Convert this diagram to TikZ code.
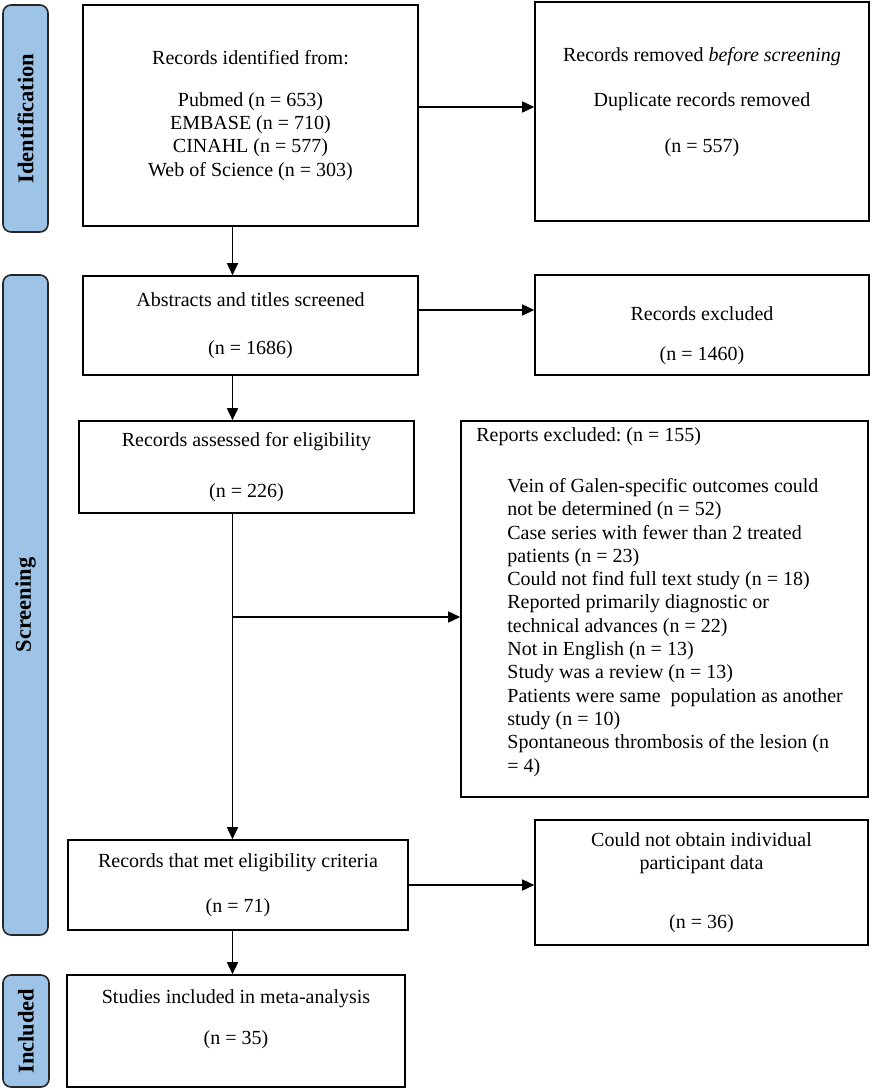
\documentclass[tikz,border=0pt]{standalone}
\usepackage{fontspec}
\setmainfont{Liberation Serif}
\usetikzlibrary{arrows.meta,positioning}
\definecolor{phaseblue}{HTML}{9DC3E6}
\frenchspacing
\begin{document}
\begin{tikzpicture}[x=1pt,y=-1pt,
    box/.style={draw,line width=1.6pt,align=center,inner sep=0pt,
      font=\fontsize{20}{23.3}\selectfont},
    phase/.style={draw=black!85,fill=phaseblue,line width=1.6pt,rounded corners=8pt,
      rotate=90,inner sep=0pt,font=\fontsize{22.5}{26}\selectfont\bfseries},
    listtext/.style={align=left,inner sep=0pt,anchor=north west,
      font=\fontsize{20}{23.3}\selectfont}]
  \useasboundingbox (0,0) rectangle (872,1090);
  % phases
  \node[phase,minimum width=227pt,minimum height=45pt] (pident) at (25.5,118.5) {Identification};
  \node[phase,minimum width=660pt,minimum height=45pt] (pscreen) at (25.5,605) {Screening};
  \node[phase,minimum width=112pt,minimum height=46pt] (pincl) at (26,1031) {Included};
  % boxes
  \node[box,minimum width=335pt,minimum height=221pt] (ident) at (250.5,115.5)
    {Records identified from:\\[18pt] Pubmed (n = 653)\\ EMBASE (n = 710)\\ CINAHL (n = 577)\\ Web of Science (n = 303)};
  \node[box,minimum width=334pt,minimum height=219pt] (removed) at (702,111.5)
    {Records removed \textit{before screening}\\[22pt] Duplicate records removed\\[22pt] (n = 557)\\[0pt]\mbox{}};
  \node[box,minimum width=335pt,minimum height=99pt] (abs) at (250.5,325.5)
    {Abstracts and titles screened\\[25pt] (n = 1686)};
  \node[box,minimum width=334pt,minimum height=100pt] (excl) at (702,325)
    {\rule{0pt}{35pt}Records excluded\\[17pt] (n = 1460)};
  \node[box,minimum width=335pt,minimum height=92pt] (assess) at (246.5,467)
    {Records assessed for eligibility\\[27pt] (n = 226)};
  \node[box,minimum width=407pt,minimum height=376pt] (reports) at (664.5,609) {};
  \node[listtext] (rephead) at ([xshift=16pt,yshift=-7pt]reports.north west)
    {Reports excluded: (n = 155)};
  \node[listtext] (replist) at ([xshift=47pt,yshift=-58pt]reports.north west)
    {Vein of Galen-specific outcomes could\\ not be determined (n = 52)\\
     Case series with fewer than 2 treated\\ patients (n = 23)\\
     Could not find full text study (n = 18)\\ Reported primarily diagnostic or\\
     technical advances (n = 22)\\ Not in English (n = 13)\\
     Study was a review (n = 13)\\ Patients were same\ \ population as another\\
     study (n = 10)\\ Spontaneous thrombosis of the lesion (n\\ = 4)};
  \node[box,minimum width=340pt,minimum height=90pt] (met) at (238,885)
    {Records that met eligibility criteria\\[22pt] (n = 71)};
  \node[box,minimum width=333pt,minimum height=125pt] (nodata) at (701.5,882.5)
    {Could not obtain individual\\ participant data\\[36pt] (n = 36)};
  \node[box,minimum width=338pt,minimum height=112pt] (studies) at (236,1031)
    {Studies included in meta-analysis\\[18pt] (n = 35)\\[5pt]\mbox{}};
  \coordinate (spine) at (232.5,0);
  \coordinate (fork) at (232.5,617);
  \begin{scope}[line width=1.6pt,-{Triangle[length=12pt,width=11pt]}]
    \draw (ident.south -| spine) to (abs.north -| spine);
    \draw ([yshift=8.5pt]ident.east) to ([yshift=8.5pt]ident.east -| removed.west);
    \draw ([yshift=15.5pt]abs.east) to ([yshift=15.5pt]abs.east -| excl.west);
    \draw (abs.south -| spine) to (assess.north -| spine);
    \draw (assess.south -| spine) to (met.north -| spine);
    \draw (fork) to (fork -| reports.west);
    \draw (met.east) to (met.east -| nodata.west);
    \draw (met.south -| spine) to (studies.north -| spine);
  \end{scope}
\end{tikzpicture}
\end{document}
